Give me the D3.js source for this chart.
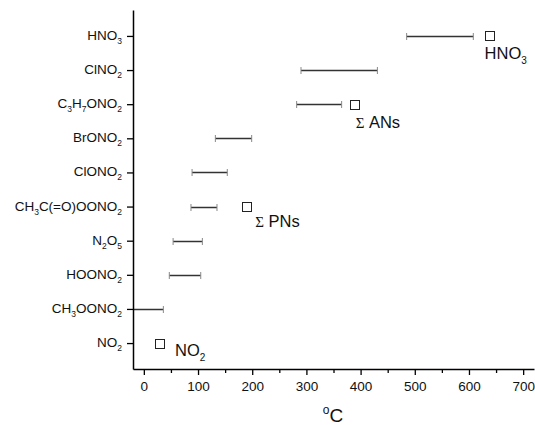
<!DOCTYPE html>
<html><head><meta charset="utf-8">
<script src="https://cdn.jsdelivr.net/npm/d3@7"></script>
<style>body{margin:0;background:#fff}svg{display:block}</style>
</head><body>
<svg id="c" width="535" height="425"></svg>
<script>
// categories from bottom (index 1) to top (index 10)
const categories = ["NO_2","CH_3OONO_2","HOONO_2","N_2O_5","CH_3C(=O)OONO_2","ClONO_2","BrONO_2","C_3H_7ONO_2","ClNO_2","HNO_3"];
const lowValues  = [null, -30, 47, 54, 87, 89, 132, 282, 290, 485];
const highValues = [null, 36, 105, 108, 135, 154, 199, 365, 431, 608];
// measured points (value, category index)
const pointLabels = ["NO_2", "Σ PNs", "Σ ANs", "HNO_3"];
const pointValues = [28, 189, 389, 638];
const pointCats   = [1, 5, 8, 10];
const xTicks = [0,100,200,300,400,500,600,700];
const xMinorTicks = [50,150,250,350,450,550,650];

const svg = d3.select("#c");
const L = 133, R = 534, T = 10, B = 369;
const x = d3.scaleLinear().domain([-20, 720]).range([L, R]);
const y = d3.scaleLinear().domain([0.24, 10.76]).range([B, T]);
const font = "Liberation Sans, Arial, sans-serif";

function sub(textSel, s, base, subSize, dy) {
  const parts = s.match(/_.|[^_]+/g);
  let shifted = false;
  parts.forEach(p => {
    if (p[0] === "_") {
      textSel.append("tspan").attr("dy", shifted ? 0 : dy).attr("font-size", subSize).text(p[1]);
      shifted = true;
    } else {
      textSel.append("tspan").attr("dy", shifted ? -dy : 0).attr("font-size", base).text(p);
      shifted = false;
    }
  });
}

const g = svg.append("g");
svg.append("clipPath").attr("id","pc").append("rect")
  .attr("x", L).attr("y", T).attr("width", R - L).attr("height", B - T);

// error bars
const bars = g.append("g").attr("clip-path","url(#pc)");
categories.forEach((c, i) => {
  if (lowValues[i] == null) return;
  const yy = Math.round(y(i + 1)) + 0.5;
  bars.append("line").attr("x1", x(lowValues[i])).attr("x2", x(highValues[i]))
    .attr("y1", yy).attr("y2", yy).attr("stroke", "#333").attr("stroke-width", 1.5);
  [lowValues[i], highValues[i]].forEach(v => {
    bars.append("line").attr("x1", x(v)).attr("x2", x(v)).attr("y1", yy - 3.5).attr("y2", yy + 3.5)
      .attr("stroke", "#888").attr("stroke-width", 1);
  });
});

// points
pointValues.forEach((v, i) => {
  const cx = x(v), cy = y(pointCats[i]);
  g.append("rect").attr("x", Math.round(cx - 4.5) + 0.5).attr("y", Math.round(cy - 4.5) + 0.5)
    .attr("width", 9).attr("height", 9).attr("fill", "none").attr("stroke", "#222").attr("stroke-width", 1);
});
// point annotations
const ann = [
  {i:0, dx: 16, dy: 13},
  {i:1, dx: 9, dy: 20},
  {i:2, dx: 1, dy: 24},
  {i:3, dx: -5, dy: 23}
];
ann.forEach(a => {
  const t = g.append("text").attr("x", x(pointValues[a.i]) + a.dx).attr("y", y(pointCats[a.i]) + a.dy)
    .attr("font-family", font).attr("font-size", 16.5).attr("fill", "#111");
  const s = pointLabels[a.i];
  if (s.startsWith("Σ")) {
    t.append("tspan").attr("font-family", "Liberation Serif, Times New Roman, serif").attr("font-size", 15).text("Σ");
    t.append("tspan").text(s.slice(1));
  } else {
    sub(t, s, 16.5, 10, 5);
  }
});

// axes
const xAxis = g.append("g").attr("transform", `translate(0,${B})`)
  .call(d3.axisBottom(x).tickValues(xTicks).tickSize(6).tickSizeOuter(0).tickPadding(6));
xAxis.select(".domain").attr("stroke-width", 1.5);
xAxis.selectAll(".tick line").attr("stroke-width", 1.3);
xAxis.selectAll("text").attr("font-family", font).attr("font-size", 13.5).attr("fill", "#111");
g.append("g").attr("transform", `translate(0,${B})`)
  .call(d3.axisBottom(x).tickValues(xMinorTicks).tickSize(4).tickFormat(""))
  .call(s => s.select(".domain").remove())
  .selectAll(".tick line").attr("stroke-width", 1.3);

const yAxis = g.append("g").attr("transform", `translate(${L},0)`)
  .call(d3.axisLeft(y).tickValues(d3.range(1, 11)).tickSize(6).tickSizeOuter(0).tickFormat(""));
yAxis.select(".domain").attr("stroke-width", 1.5);
yAxis.selectAll(".tick line").attr("stroke-width", 1.3);

categories.forEach((c, i) => {
  const t = g.append("text").attr("x", 122).attr("y", y(i + 1) + 4)
    .attr("text-anchor", "end").attr("font-family", font).attr("fill", "#111");
  sub(t, c, 13.5, 8.5, 4);
});

// x title
const xt = g.append("text").attr("x", 333).attr("y", 422).attr("text-anchor", "middle")
  .attr("font-family", font).attr("font-size", 19).attr("fill", "#111");
xt.append("tspan").attr("font-size", 12).attr("dy", -8).text("o");
xt.append("tspan").attr("dy", 8).text("C");
</script>
</body></html>
